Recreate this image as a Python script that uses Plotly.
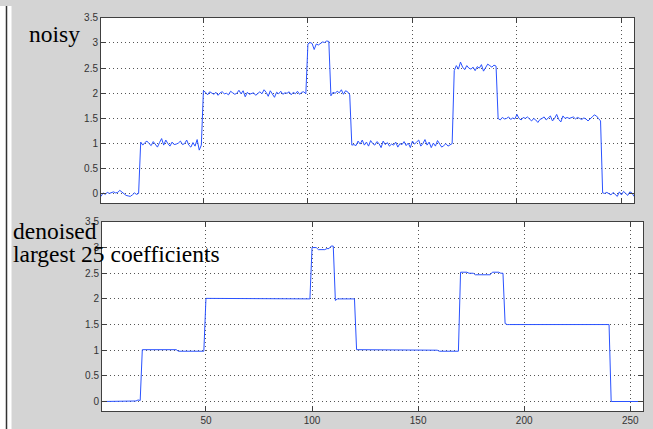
import plotly.graph_objects as go

# ---- data ----
noisy_seg0a = [-0.05, 0.02, -0.01, 0.03, 0.01, 0.02, 0.04, 0.02, 0.03, 0.07,
               0.04, 0.00, -0.03, -0.04, -0.05, -0.02, 0.02, -0.01, 0.01]
noisy_seg1a = [1.03, 0.97, 1.02, 1.05, 1.00, 0.96, 1.04, 0.99, 0.93, 1.02,
               1.10, 0.97, 1.07, 1.00, 0.95, 1.03, 0.98, 0.99, 1.01, 1.05,
               0.98, 1.00, 1.07, 0.97, 0.93, 1.02, 0.95, 1.08, 0.87, 0.97]
noisy_seg2a = [2.05, 2.02, 1.97, 2.03, 2.00, 1.98, 2.02, 1.96, 2.01, 2.03,
               1.99, 2.00, 1.97, 2.04, 2.01, 1.98, 2.00, 2.06, 1.99, 2.05,
               1.93, 2.02, 1.98, 2.00, 2.01, 1.96, 2.00, 2.03, 1.99, 2.07,
               2.02, 1.94, 2.05, 1.97, 1.92, 2.02, 1.99, 2.04, 1.98, 2.01,
               2.00, 2.03, 1.97, 2.02, 1.99, 2.04, 1.98, 2.02, 2.03, 1.99]
noisy_seg3 = [2.98, 3.01, 2.99, 2.87, 2.98, 2.96, 3.00, 3.02, 3.01, 3.04, 3.03]
noisy_seg2b = [1.95, 2.02, 2.00, 2.04, 2.01, 2.07, 1.98, 2.05, 2.03, 1.97]
noisy_seg1b = [0.97, 0.98, 0.96, 1.05, 0.99, 1.07, 0.97, 1.03, 0.95, 1.06,
               1.00, 0.97, 1.04, 1.00, 0.92, 1.05, 0.98, 1.02, 0.95, 0.99,
               0.97, 1.03, 0.93, 1.00, 0.98, 1.04, 0.96, 1.01, 0.92, 1.05,
               0.99, 1.03, 1.07, 0.95, 1.00, 1.08, 0.97, 1.03, 0.92, 1.01,
               0.95, 1.06, 1.00, 0.93, 0.96, 1.00, 0.95, 0.97, 1.00]
noisy_seg25 = [2.45, 2.55, 2.48, 2.62, 2.52, 2.47, 2.55, 2.50, 2.48, 2.52,
               2.45, 2.53, 2.50, 2.57, 2.44, 2.52, 2.58, 2.55, 2.52, 2.56, 2.54]
noisy_seg15 = [1.50, 1.47, 1.52, 1.49, 1.50, 1.53, 1.48, 1.51, 1.49, 1.58,
               1.50, 1.47, 1.52, 1.50, 1.53, 1.48, 1.45, 1.50, 1.47, 1.42,
               1.48, 1.50, 1.53, 1.47, 1.52, 1.55, 1.45, 1.50, 1.58, 1.48,
               1.43, 1.55, 1.50, 1.52, 1.50, 1.51, 1.53, 1.49, 1.52, 1.50,
               1.48, 1.51, 1.49, 1.45, 1.50, 1.53, 1.57, 1.55, 1.50, 1.45]
noisy_seg0b = [0.02, 0.01, 0.03, 0.00, -0.02, 0.03, -0.01, -0.05, 0.04, -0.02,
               0.05, 0.00, -0.03, 0.04, 0.02, -0.05]

denoised_seg0a = [0.0] * 16 + [0.01, 0.03, 0.02]
denoised_seg1a = [1.01] * 17 + [0.98] * 13
denoised_seg2a = [2.01] * 2 + [2.0] * 48
denoised_seg3 = [3.0, 3.0, 3.0, 2.96, 2.96, 2.96, 2.96, 2.98, 2.98, 3.03, 3.03]
denoised_seg2b = [1.97] + [2.0] * 9
denoised_seg1b = [1.01] * 8 + [1.0] * 31 + [0.98] * 10
denoised_seg25 = [2.52] * 4 + [2.5] * 3 + [2.47] * 8 + [2.52] * 4 + [2.5] * 2
denoised_seg15 = [1.52] + [1.5] * 49
denoised_seg0b = [0.0] * 16

noisy = (noisy_seg0a + noisy_seg1a + noisy_seg2a + noisy_seg3 + noisy_seg2b +
         noisy_seg1b + noisy_seg25 + noisy_seg15 + noisy_seg0b)
denoised = (denoised_seg0a + denoised_seg1a + denoised_seg2a + denoised_seg3 +
            denoised_seg2b + denoised_seg1b + denoised_seg25 + denoised_seg15 +
            denoised_seg0b)
sample = list(range(1, len(noisy) + 1))

x_ticks = [50, 100, 150, 200, 250]
y_ticks = [0, 0.5, 1, 1.5, 2, 2.5, 3, 3.5]
y_tick_text = ["0", "0.5", "1", "1.5", "2", "2.5", "3", "3.5"]

W, H = 653, 429
BLUE = "#2a52ff"
GRID = "#555555"
TICKFONT = dict(family="Liberation Sans, Arial, sans-serif", size=10, color="#333333")


def px_x(p):
    return p / W


def px_y(p):
    return 1 - p / H


fig = go.Figure()
fig.add_trace(go.Scatter(x=sample, y=noisy, mode="lines",
                         line=dict(color=BLUE, width=1), xaxis="x", yaxis="y",
                         showlegend=False, hoverinfo="skip"))
fig.add_trace(go.Scatter(x=sample, y=denoised, mode="lines",
                         line=dict(color=BLUE, width=1), xaxis="x2", yaxis="y2",
                         showlegend=False, hoverinfo="skip"))

axis_common = dict(showline=True, linecolor="#404040", linewidth=1, mirror="ticks",
                   ticks="inside", ticklen=5, tickcolor="#404040",
                   showgrid=True, gridcolor=GRID, griddash="1px,3px", gridwidth=1,
                   zeroline=False, tickfont=TICKFONT)

fig.update_layout(
    width=W, height=H,
    margin=dict(l=0, r=0, t=0, b=0),
    paper_bgcolor="#d4d4d4",
    plot_bgcolor="white",
    showlegend=False,
    xaxis=dict(domain=[px_x(101), px_x(634)], range=[1, 256], anchor="y",
               tickvals=x_ticks, showticklabels=False, **axis_common),
    yaxis=dict(domain=[px_y(200), px_y(12)], range=[-0.185, 3.5], anchor="x",
               tickvals=y_ticks, ticktext=y_tick_text, **axis_common),
    xaxis2=dict(domain=[px_x(102), px_x(643)], range=[1, 256], anchor="y2",
                tickvals=x_ticks, **axis_common),
    yaxis2=dict(domain=[px_y(411), px_y(219)], range=[-0.19, 3.5], anchor="x2",
                tickvals=y_ticks, ticktext=y_tick_text, **axis_common),
    shapes=[
        dict(type="rect", xref="paper", yref="paper", x0=0, x1=px_x(11.5),
             y0=0, y1=1, fillcolor="white", line=dict(width=0), layer="below"),
        dict(type="line", xref="paper", yref="paper", x0=px_x(6.5), x1=px_x(6.5),
             y0=0, y1=1, line=dict(color="#333333", width=1.5)),
    ],
)

TITLEFONT = dict(family="Liberation Serif, Times New Roman, serif", size=23.5, color="black")
fig.add_annotation(text="noisy", xref="paper", yref="paper", x=px_x(27), y=px_y(28),
                   xanchor="left", yanchor="middle", showarrow=False, font=TITLEFONT)
fig.add_annotation(text="denoised", xref="paper", yref="paper", x=px_x(11), y=px_y(228),
                   xanchor="left", yanchor="middle", showarrow=False, font=TITLEFONT)
fig.add_annotation(text="largest 25 coefficients", xref="paper", yref="paper",
                   x=px_x(11), y=px_y(252), xanchor="left", yanchor="middle",
                   showarrow=False, font=TITLEFONT)

fig.write_html("out.html")
